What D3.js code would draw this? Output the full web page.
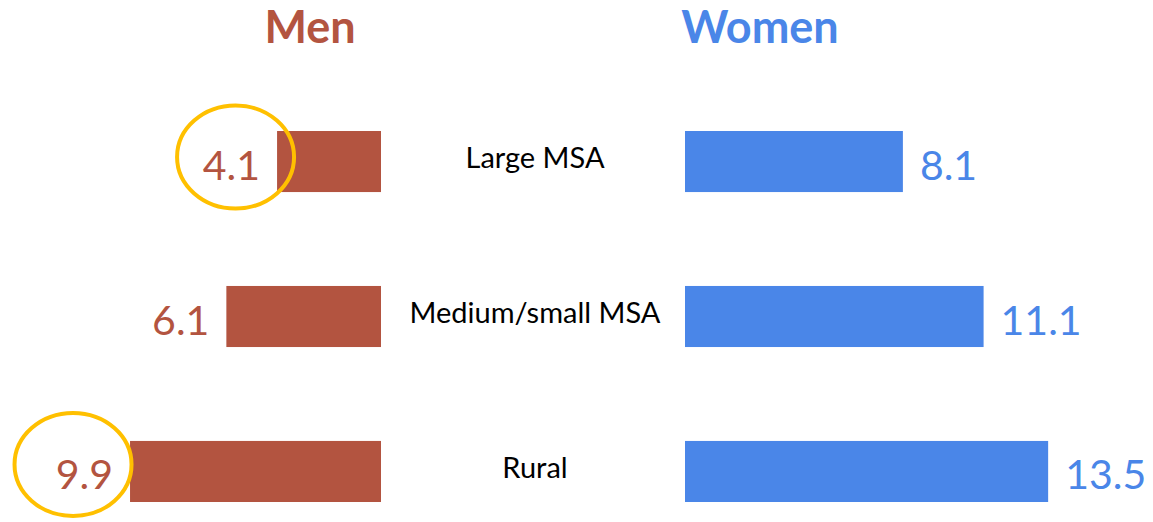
<!DOCTYPE html>
<html>
<head>
<script src="https://d3js.org/d3.v7.min.js"></script>
<style>
  body { margin: 0; background: #fff; }
  text { font-family: Lato, "Open Sans", sans-serif; }
</style>
</head>
<body>
<svg width="1153" height="522"></svg>
<script>
// data
var categories = ['Large MSA', 'Medium/small MSA', 'Rural'];
var menValues = [4.1, 6.1, 9.9];
var womenValues = [8.1, 11.1, 13.5];
var circled = [true, false, true];   // men values that are highlighted

var menColor = '#b35440';
var womenColor = '#4a86e8';
var ringColor = '#ffc000';

// ring placement relative to the bar end (layout only)
var ringDx = [-41.5, 0, -57];
var ringDy = [-4.5, 0, -7];

var svg = d3.select('svg');

// scales
var ys = d3.scaleBand().domain(categories).range([100, 533]).paddingInner(0.606).paddingOuter(0.2);
var xMen = d3.scaleLinear().domain([0, 10]).range([381, 127.5]);
var xWomen = d3.scaleLinear().domain([0, 14]).range([685, 1061.6]);

var rows = categories.map(function(c, i) {
  return {cat: c, men: menValues[i], women: womenValues[i], ring: circled[i], dx: ringDx[i], dy: ringDy[i]};
});

// titles
svg.append('text')
  .attr('x', 310).attr('y', 43)
  .attr('text-anchor', 'middle')
  .style('font-weight', 'bold').style('font-size', '45px')
  .style('fill', menColor)
  .text('Men');

svg.append('text')
  .attr('x', 760).attr('y', 43)
  .attr('text-anchor', 'middle')
  .style('font-weight', 'bold').style('font-size', '45px')
  .style('fill', womenColor)
  .text('Women');

// men bars
svg.append('g').selectAll('rect')
  .data(rows).enter().append('rect')
  .attr('x', function(d) { return xMen(d.men); })
  .attr('y', function(d) { return ys(d.cat); })
  .attr('width', function(d) { return xMen(0) - xMen(d.men); })
  .attr('height', ys.bandwidth())
  .style('fill', menColor);

// women bars
svg.append('g').selectAll('rect')
  .data(rows).enter().append('rect')
  .attr('x', xWomen(0))
  .attr('y', function(d) { return ys(d.cat); })
  .attr('width', function(d) { return xWomen(d.women) - xWomen(0); })
  .attr('height', ys.bandwidth())
  .style('fill', womenColor);

// category labels
svg.append('g').selectAll('text')
  .data(rows).enter().append('text')
  .attr('x', 535)
  .attr('y', function(d) { return ys(d.cat) + ys.bandwidth() / 2 + 6.5; })
  .attr('text-anchor', 'middle')
  .style('font-size', '29px').style('fill', '#000')
  .text(function(d) { return d.cat; });

// men value labels
svg.append('g').selectAll('text')
  .data(rows).enter().append('text')
  .attr('x', function(d) { return xMen(d.men) - 17; })
  .attr('y', function(d) { return ys(d.cat) + ys.bandwidth() / 2 + 18; })
  .attr('text-anchor', 'end')
  .style('font-size', '41px').style('fill', menColor)
  .text(function(d) { return d.men.toFixed(1); });

// women value labels
svg.append('g').selectAll('text')
  .data(rows).enter().append('text')
  .attr('x', function(d) { return xWomen(d.women) + 17; })
  .attr('y', function(d) { return ys(d.cat) + ys.bandwidth() / 2 + 18; })
  .attr('text-anchor', 'start')
  .style('font-size', '41px').style('fill', womenColor)
  .text(function(d) { return d.women.toFixed(1); });

// highlight rings
svg.append('g').selectAll('ellipse')
  .data(rows.filter(function(d) { return d.ring; })).enter().append('ellipse')
  .attr('cx', function(d) { return xMen(d.men) + d.dx; })
  .attr('cy', function(d) { return ys(d.cat) + ys.bandwidth() / 2 + d.dy; })
  .attr('rx', 58.5)
  .attr('ry', 51.5)
  .style('fill', 'none')
  .style('stroke', ringColor)
  .style('stroke-width', 4);
</script>
</body>
</html>
